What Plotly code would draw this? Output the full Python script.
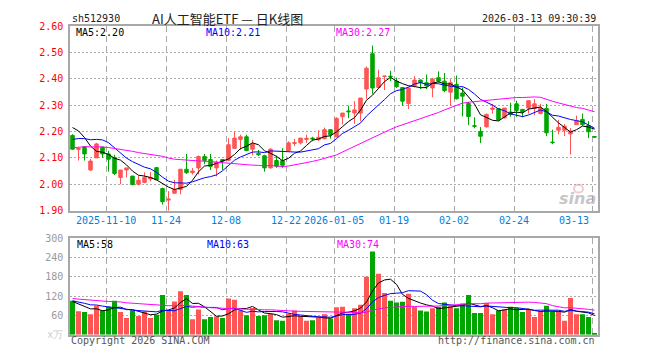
import plotly.graph_objects as go
import numpy as np

W, H = 660, 360
X0, X1 = 70, 598          # plot left/right (px)
PT, PB = 20.7, 211.7      # price panel top/bottom (px)
VT, VB = 240, 340         # volume panel top/bottom (px)

def fx(p): return p / W
def fy(p): return 1 - p / H

# ---------------- data ----------------
opens = [2.185, 2.132, 2.142, 2.054, 2.100, 2.141, 2.115, 2.102, 2.026, 2.054,
         2.031, 2.000, 2.007, 2.020, 2.063, 1.984, 1.940, 1.966, 1.980, 2.057,
         2.044, 2.062, 2.105, 2.094, 2.062, 2.094, 2.091, 2.136, 2.170, 2.180,
         2.133, 2.117, 2.108, 2.062, 2.090, 2.090, 2.128, 2.155, 2.157, 2.170,
         2.175, 2.169, 2.173, 2.207, 2.180, 2.256, 2.278, 2.270, 2.270, 2.361,
         2.495, 2.367, 2.409, 2.410, 2.391, 2.367, 2.306, 2.373, 2.395, 2.385,
         2.365, 2.404, 2.391, 2.349, 2.379, 2.346, 2.306, 2.222, 2.200, 2.218,
         2.284, 2.287, 2.252, 2.274, 2.305, 2.284, 2.289, 2.287, 2.268, 2.287,
         2.160, 2.205, 2.205, 2.191, 2.226, 2.246, 2.223, 2.181]
highs = [2.190, 2.137, 2.145, 2.096, 2.157, 2.142, 2.127, 2.112, 2.054, 2.062,
         2.032, 2.031, 2.045, 2.047, 2.066, 1.987, 1.974, 2.017, 2.057, 2.115,
         2.062, 2.109, 2.115, 2.115, 2.090, 2.094, 2.175, 2.200, 2.188, 2.188,
         2.169, 2.130, 2.112, 2.137, 2.109, 2.137, 2.163, 2.172, 2.175, 2.188,
         2.180, 2.205, 2.215, 2.207, 2.254, 2.270, 2.298, 2.315, 2.327, 2.446,
         2.526, 2.434, 2.410, 2.430, 2.404, 2.367, 2.367, 2.410, 2.398, 2.416,
         2.404, 2.428, 2.422, 2.398, 2.412, 2.367, 2.312, 2.254, 2.217, 2.268,
         2.305, 2.287, 2.289, 2.309, 2.317, 2.284, 2.317, 2.323, 2.305, 2.305,
         2.207, 2.244, 2.228, 2.213, 2.260, 2.268, 2.240, 2.182]
lows = [2.130, 2.090, 2.090, 2.051, 2.100, 2.100, 2.048, 2.035, 2.000, 2.026,
        1.996, 1.996, 2.004, 2.011, 2.017, 1.923, 1.900, 1.964, 1.962, 2.039,
        2.037, 2.037, 2.076, 2.054, 2.030, 2.054, 2.088, 2.136, 2.130, 2.125,
        2.110, 2.107, 2.048, 2.060, 2.062, 2.062, 2.125, 2.145, 2.151, 2.157,
        2.163, 2.164, 2.170, 2.173, 2.178, 2.227, 2.251, 2.229, 2.239, 2.324,
        2.343, 2.361, 2.357, 2.391, 2.365, 2.298, 2.285, 2.367, 2.361, 2.361,
        2.330, 2.385, 2.349, 2.298, 2.322, 2.257, 2.224, 2.212, 2.156, 2.215,
        2.268, 2.241, 2.249, 2.256, 2.256, 2.254, 2.268, 2.262, 2.266, 2.183,
        2.152, 2.189, 2.183, 2.113, 2.226, 2.222, 2.175, 2.176]
closes = [2.133, 2.136, 2.115, 2.088, 2.153, 2.115, 2.095, 2.041, 2.054, 2.062,
          1.999, 2.015, 2.026, 2.026, 2.017, 1.934, 1.944, 1.980, 2.057, 2.044,
          2.050, 2.105, 2.090, 2.068, 2.084, 2.088, 2.150, 2.175, 2.180, 2.128,
          2.153, 2.112, 2.062, 2.133, 2.068, 2.072, 2.157, 2.158, 2.175, 2.174,
          2.172, 2.178, 2.207, 2.187, 2.250, 2.270, 2.275, 2.282, 2.327, 2.440,
          2.365, 2.404, 2.410, 2.408, 2.370, 2.315, 2.365, 2.395, 2.385, 2.373,
          2.398, 2.391, 2.355, 2.385, 2.324, 2.334, 2.257, 2.220, 2.182, 2.265,
          2.289, 2.244, 2.289, 2.265, 2.280, 2.274, 2.317, 2.305, 2.289, 2.195,
          2.158, 2.216, 2.220, 2.201, 2.240, 2.226, 2.199, 2.179]
volumes = [105, 73, 70, 63, 90, 75, 87, 105, 70, 52,
           75, 58, 72, 52, 62, 123, 75, 103, 135, 123,
           48, 78, 48, 55, 57, 52, 112, 108, 75, 60,
           83, 58, 60, 65, 45, 43, 65, 75, 57, 43,
           45, 53, 63, 50, 85, 87, 65, 82, 93, 180,
           258, 189, 129, 105, 100, 102, 127, 87, 75, 72,
           82, 87, 100, 88, 82, 97, 123, 67, 67, 98,
           63, 75, 78, 87, 83, 70, 80, 55, 72, 90,
           72, 72, 43, 114, 63, 63, 55, 3]
# sessions before the window (estimated, only feed the moving averages)
prior_closes = [2.05, 2.08, 2.10, 2.13, 2.15, 2.16, 2.14, 2.12, 2.15, 2.18,
                2.16, 2.13, 2.10, 2.09, 2.11, 2.13, 2.12, 2.10, 2.11, 2.14,
                2.10, 2.12, 2.13, 2.14, 2.134, 2.20, 2.24, 2.25, 2.252]
prior_volumes = [130, 120, 140, 110, 100, 125, 105, 115, 135, 110,
                 100, 120, 115, 105, 125, 110, 100, 120, 115, 110,
                 100, 120, 110, 95, 110, 110, 115, 96, 89]

tick_idx = [6, 16, 26, 36, 44, 54, 64, 74, 87]
tick_labels = ["2025-11-10", "11-24", "12-08", "12-22", "2026-01-05",
               "01-19", "02-02", "02-24", "03-13"]
price_ticks = [1.90, 2.00, 2.10, 2.20, 2.30, 2.40, 2.50, 2.60]
vol_ticks = [0, 60, 120, 180, 240, 300]

title_code = "sh512930"
title_name = "AI人工智能ETF\u00a0—\u00a0日K线图"
title_time = "2026-03-13 09:30:39"
price_ma_text = ["MA5:2.20", "MA10:2.21", "MA30:2.27"]
vol_ma_text = ["MA5:58", "MA10:63", "MA30:74"]
ma_colors = ["#000000", "#0000ff", "#ff00ff"]
ma_windows = [5, 10, 30]

RED = "#ff5555"
GREEN = "#00a600"
MONO = "DejaVu Sans Mono"

n = len(closes)
xs = list(range(n))

def moving(prior, vals, w):
    full = np.array(prior + vals, dtype=float)
    out = np.convolve(full, np.ones(w) / w, mode="valid")
    return out[-len(vals):]

fig = go.Figure()

fig.add_trace(go.Candlestick(
    x=xs, open=opens, high=highs, low=lows, close=closes,
    increasing=dict(line=dict(color=RED, width=1), fillcolor=RED),
    decreasing=dict(line=dict(color=GREEN, width=1), fillcolor=GREEN),
    whiskerwidth=0, xaxis="x", yaxis="y", showlegend=False, hoverinfo="skip"))

for w, c in zip(ma_windows, ma_colors):
    fig.add_trace(go.Scatter(x=xs, y=moving(prior_closes, closes, w), mode="lines",
                             line=dict(color=c, width=1), xaxis="x", yaxis="y",
                             showlegend=False, hoverinfo="skip"))

bar_colors = [RED if c >= o else GREEN for o, c in zip(opens, closes)]
fig.add_trace(go.Bar(x=xs, y=volumes, marker=dict(color=bar_colors, line=dict(width=0)),
                     xaxis="x2", yaxis="y2", showlegend=False, hoverinfo="skip"))
for w, c in zip(ma_windows, ma_colors):
    fig.add_trace(go.Scatter(x=xs, y=moving(prior_volumes, volumes, w), mode="lines",
                             line=dict(color=c, width=1), xaxis="x2", yaxis="y2",
                             showlegend=False, hoverinfo="skip"))

SHIFT = -0.35
grid_x = [t + SHIFT for t in tick_idx]
xr = [-0.4167, n - 0.4167]
xcommon = dict(range=xr, showticklabels=False, ticks="", tickvals=grid_x,
               showgrid=True, gridcolor="#aaaaaa", griddash="6px,4px", gridwidth=1,
               showline=True, mirror=True, linecolor="#a8a8a8", linewidth=1.5,
               zeroline=False, fixedrange=True)

fig.update_layout(
    width=W, height=H, margin=dict(l=0, r=0, t=0, b=0),
    paper_bgcolor="white", plot_bgcolor="white",
    boxgap=0.17, bargap=0.17,
    xaxis=dict(domain=[fx(X0), fx(X1)], anchor="y", rangeslider=dict(visible=False), **xcommon),
    xaxis2=dict(domain=[fx(X0), fx(X1)], anchor="y2", matches="x", **xcommon),
    yaxis=dict(domain=[fy(PB), fy(PT)], range=[1.90, 2.60], tickvals=price_ticks,
               ticktext=["%.2f" % v for v in price_ticks],
               tickfont=dict(family=MONO, size=10, color="#ff0000"),
               showgrid=True, gridcolor="#aaaaaa", griddash="2px,2px", gridwidth=1,
               showline=True, mirror=True, linecolor="#a8a8a8", linewidth=1.5,
               zeroline=False, ticks="", ticklabelstandoff=3, fixedrange=True),
    yaxis2=dict(domain=[fy(VB), fy(VT)], range=[0, 300], tickvals=vol_ticks,
                ticktext=["<span style='color:#cccccc'>x万</span>"] + [str(v) for v in vol_ticks[1:]],
                tickfont=dict(family=MONO, size=10, color="#999999"),
                showgrid=True, gridcolor="#aaaaaa", griddash="2px,2px", gridwidth=1,
                showline=True, mirror=True, linecolor="#a8a8a8", linewidth=1.5,
                zeroline=False, ticks="", ticklabelstandoff=3, fixedrange=True),
)

ann = []
ann.append(dict(x=fx(70), y=fy(13), xref="paper", yref="paper", text=title_code,
                xanchor="left", yanchor="middle", showarrow=False,
                font=dict(family=MONO, size=10, color="#222")))
ann.append(dict(x=fx(151), y=fy(12.5), xref="paper", yref="paper", text=title_name,
                xanchor="left", yanchor="middle", showarrow=False, borderpad=0,
                font=dict(family="Noto Sans CJK SC", size=13, color="#222")))
ann.append(dict(x=fx(598), y=fy(13), xref="paper", yref="paper", text=title_time,
                xanchor="right", yanchor="middle", showarrow=False,
                font=dict(family=MONO, size=10, color="#222")))
for t, c, xp in zip(price_ma_text, ma_colors, [75, 205, 335]):
    ann.append(dict(x=fx(xp), y=fy(27.5), xref="paper", yref="paper", text=t,
                    xanchor="left", yanchor="middle", showarrow=False, borderpad=0,
                    font=dict(family=MONO, size=10, color=c)))
for t, c, xp in zip(vol_ma_text, ma_colors, [75, 205, 335]):
    ann.append(dict(x=fx(xp), y=fy(247), xref="paper", yref="paper", text=t,
                    xanchor="left", yanchor="middle", showarrow=False,
                    font=dict(family=MONO, size=10, color=c)))
for k, (ti, tl) in enumerate(zip(tick_idx, tick_labels)):
    last = k == len(tick_idx) - 1
    ann.append(dict(x=ti + SHIFT, y=fy(222), xref="x", yref="paper", text=tl,
                    xanchor="right" if last else "center", yanchor="middle",
                    xshift=-1 if last else 0, showarrow=False,
                    font=dict(family=MONO, size=10, color="#0080dd")))
ann.append(dict(x=fx(69), y=fy(346), xref="paper", yref="paper", text="Copyright 2026 SINA.COM",
                xanchor="left", yanchor="middle", showarrow=False,
                font=dict(family=MONO, size=10, color="#555")))
ann.append(dict(x=fx(597), y=fy(346), xref="paper", yref="paper", text="http://finance.sina.com.cn",
                xanchor="right", yanchor="middle", showarrow=False,
                font=dict(family=MONO, size=10, color="#555")))
ann.append(dict(x=fx(598), y=fy(199), xref="paper", yref="paper", text="<b><i>sina</i></b>",
                xanchor="right", yanchor="middle", showarrow=False,
                font=dict(family="DejaVu Sans", size=16, color="rgba(160,160,160,0.6)")))
fig.update_layout(annotations=ann)
fig.add_shape(type="circle", xref="paper", yref="paper",
              x0=fx(574), x1=fx(583), y0=fy(193), y1=fy(185),
              line=dict(color="rgba(230,140,140,0.45)", width=2), fillcolor="rgba(0,0,0,0)")

fig.write_html("out.html", config={"displayModeBar": False},
               post_script="document.body.style.margin='0';document.body.style.padding='0';")
